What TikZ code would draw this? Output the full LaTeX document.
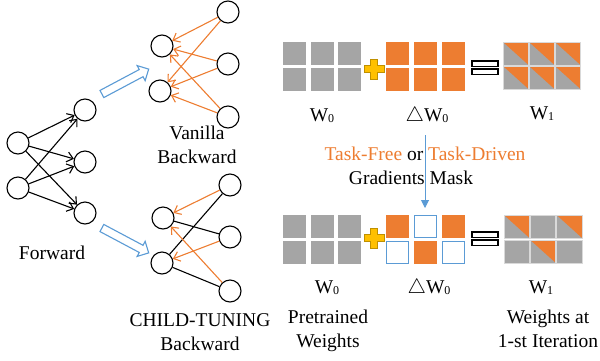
\documentclass[tikz,border=0pt]{standalone}
\usepackage{fontspec}
\setmainfont{Liberation Serif}
\usetikzlibrary{arrows.meta,shapes.arrows}
\definecolor{gradorange}{HTML}{ED7D31}
\definecolor{weightgray}{HTML}{A5A5A5}
\definecolor{maskblue}{HTML}{5B9BD5}
\definecolor{plusyellow}{HTML}{FFC000}
\definecolor{plusgold}{HTML}{BF9000}
\definecolor{cellborder}{HTML}{D9D9D9}
\newcommand{\wsub}[1]{\raisebox{-1pt}{\fontsize{12}{12}\selectfont #1}}
\tikzset{
    neuron/.style={draw, circle, line width=1.1pt, minimum size=22pt, inner sep=0pt},
    fwd/.style={line width=1.1pt, -{Straight Barb[length=6pt,width=10pt]}},
    grad/.style={gradorange, line width=1.1pt, -{Straight Barb[length=6pt,width=10pt]}},
    link/.style={line width=1.1pt},
    hollow/.style={single arrow, draw=maskblue, fill=white, line width=1.1pt,
        minimum height=53pt, single arrow head extend=4.5pt, inner sep=3.5pt},
    txt/.style={align=center, inner sep=0pt},
}
\begin{document}
\begin{tikzpicture}[x=1pt, y=-1pt, font=\fontsize{19.5}{23.5}\selectfont]
    \useasboundingbox (0,0) rectangle (600,360);

    % forward pass
    \node[neuron] (f1) at (18,143) {};
    \node[neuron] (f2) at (18,188) {};
    \node[neuron] (f3) at (85,110) {};
    \node[neuron] (f4) at (85,162) {};
    \node[neuron] (f5) at (85,213) {};
    \foreach \a in {f1,f2}
        \foreach \b in {f3,f4,f5}
            \draw[fwd] (\a) -- (\b);
    \node[txt] (forward) at (52,253) {Forward};

    % vanilla backward
    \node[neuron] (v1) at (162,46) {};
    \node[neuron] (v2) at (160,91) {};
    \node[neuron] (v3) at (228,12) {};
    \node[neuron] (v4) at (228,64) {};
    \node[neuron] (v5) at (228,117) {};
    \foreach \a in {v3,v4,v5}
        \foreach \b in {v1,v2}
            \draw[grad] (\a) -- (\b);
    \node[txt] (vanilla) at (197,145) {Vanilla\\Backward};

    % child-tuning backward
    \node[neuron] (c1) at (163,218) {};
    \node[neuron] (c2) at (162,263) {};
    \node[neuron] (c3) at (230,185) {};
    \node[neuron] (c4) at (230,237) {};
    \node[neuron] (c5) at (230,291) {};
    \draw[link] (c3) -- (c2);
    \draw[link] (c4) -- (c1);
    \draw[link] (c5) -- (c2);
    \draw[grad] (c3) -- (c1);
    \draw[grad] (c4) -- (c2);
    \draw[grad] (c5) -- (c1);
    \node[txt] (child) at (200,332) {CHILD-TUNING\\Backward};

    \node[hollow, rotate=28] (toVanilla) at (123.5,82.5) {};
    \node[hollow, rotate=-28] (toChild) at (123.5,239.5) {};

    % weight blocks
    \foreach \i in {0,1,2}
        \foreach \j in {0,1} {
            \fill[weightgray] ({283+27.5*\i},{42+26*\j}) rectangle ++(23,23);
            \fill[weightgray] ({283+27.5*\i},{215+26*\j}) rectangle ++(23,23);
            \fill[gradorange] ({386+28*\i},{42+26*\j}) rectangle ++(23,23);
            \fill[weightgray] ({503+26*\i},{42+24*\j}) rectangle ++(25.5,23);
            \fill[gradorange] ({503+26*\i},{42+24*\j}) -- ++(25.5,0) -- ++(0,23) -- cycle;
            \draw[cellborder, line width=0.8pt] ({503+26*\i},{42+24*\j}) rectangle ++(25.5,23);
            \fill[weightgray] ({504+26.3*\i},{215+25*\j}) rectangle ++(25.5,23);
        }
    \foreach \i/\j in {0/0,2/0,1/1} {
        \fill[gradorange] ({386+28*\i},{215+26*\j}) rectangle ++(23,23);
        \fill[gradorange] ({504+26.3*\i},{215+25*\j}) -- ++(25.5,0) -- ++(0,23) -- cycle;
    }
    \foreach \i/\j in {1/0,0/1,2/1}
        \draw[maskblue, line width=1.4pt, fill=white] ({386.7+28*\i},{215.7+26*\j}) rectangle ++(21.6,21.6);
    \foreach \i in {0,1,2}
        \foreach \j in {0,1}
            \draw[cellborder, line width=0.8pt] ({504+26.3*\i},{215+25*\j}) rectangle ++(25.5,23);

    % plus and equals
    \foreach \y in {69,238} {
        \filldraw[fill=plusyellow, draw=plusgold, line width=0.8pt]
            (370.5,\y-10) -- ++(7,0) -- ++(0,6.5) -- ++(6.5,0) -- ++(0,7) -- ++(-6.5,0)
            -- ++(0,6.5) -- ++(-7,0) -- ++(0,-6.5) -- ++(-6.5,0) -- ++(0,-7) -- ++(6.5,0) -- cycle;
    }
    \foreach \y in {61,232} {
        \draw[line width=1.1pt, fill=white] (472,\y) rectangle (498,\y+5.5);
        \draw[line width=1.1pt, fill=white] (472,\y+8) rectangle (498,\y+13.5);
    }

    \node[txt] (w0a) at (322,116) {W\wsub{0}};
    \node[txt] (dwa) at (427,116) {$\triangle$W\wsub{0}};
    \node[txt] (w1a) at (542,114) {W\wsub{1}};
    \node[txt] (w0b) at (327,288) {W\wsub{0}};
    \node[txt] (dwb) at (429,288) {$\triangle$W\wsub{0}};
    \node[txt] (w1b) at (541,288) {W\wsub{1}};

    % gradient mask
    \coordinate (maskTop) at (425,135);
    \coordinate (maskBot) at (425,208);
    \draw[maskblue, line width=1pt, -{Triangle[length=8pt,width=8pt]}] (maskTop) -- (maskBot);
    \node[txt] (mask1) at (425,154) {\textcolor{gradorange}{Task-Free} or \textcolor{gradorange}{Task-Driven}};
    \node[txt] (mask2) at (411,178) {Gradients Mask};

    \node[txt] (pretrained) at (328,331) {Pretrained\\Weights};
    \node[txt] (iteration) at (548,329) {Weights at\\1-st Iteration};
\end{tikzpicture}
\end{document}
